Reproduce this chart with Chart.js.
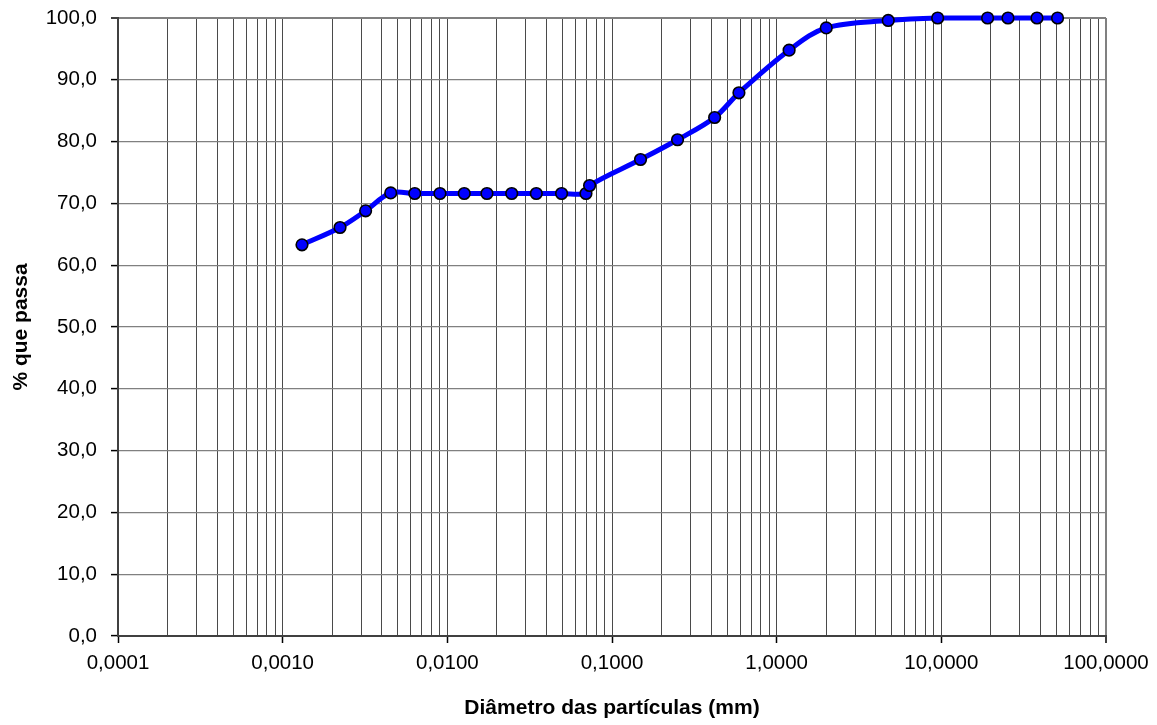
<!DOCTYPE html>
<html>
<head>
<meta charset="utf-8">
<script src="https://cdn.jsdelivr.net/npm/chart.js@4.4.1/dist/chart.umd.min.js"></script>
<style>
  html, body { margin: 0; padding: 0; background: #ffffff; }
  #wrap { width: 1157px; height: 725px; position: relative; }
</style>
</head>
<body>
<div id="wrap"><canvas id="c" width="1157" height="725"></canvas></div>
<script>
// ---- Data ----
const diameters = [0.00131, 0.00223, 0.00319, 0.00453, 0.00634, 0.00902, 0.01267, 0.0174, 0.0246, 0.0347, 0.0494, 0.0695, 0.0731, 0.149, 0.25, 0.42, 0.59, 1.19, 2.0, 4.76, 9.5, 19.1, 25.4, 38.1, 50.8];
const passing   = [63.3, 66.1, 68.8, 71.7, 71.6, 71.6, 71.6, 71.6, 71.6, 71.6, 71.6, 71.6, 72.9, 77.1, 80.3, 83.9, 87.9, 94.8, 98.4, 99.6, 100, 100, 100, 100, 100];

const xTickValues = [0.0001, 0.001, 0.01, 0.1, 1, 10, 100];
const xTickLabels = ["0,0001", "0,0010", "0,0100", "0,1000", "1,0000", "10,0000", "100,0000"];
const yTickValues = [0, 10, 20, 30, 40, 50, 60, 70, 80, 90, 100];
const yTickLabels = ["0,0", "10,0", "20,0", "30,0", "40,0", "50,0", "60,0", "70,0", "80,0", "90,0", "100,0"];

const xTitle = "Diâmetro das partículas (mm)";
const yTitle = "% que passa";

// minor log grid values (1..9 x 10^n)
const xGridValues = [];
for (let e = -4; e <= 1; e++) {
  for (let m = 1; m <= 9; m++) xGridValues.push(parseFloat((m * Math.pow(10, e)).toPrecision(6)));
}
xGridValues.push(100);

function majorIndex(v) {
  for (let i = 0; i < xTickValues.length; i++) {
    if (Math.abs(Math.log10(v) - Math.log10(xTickValues[i])) < 1e-6) return i;
  }
  return -1;
}

const FONT = "'Liberation Sans', Arial, Helvetica, sans-serif";

new Chart(document.getElementById('c'), {
  type: 'line',
  data: {
    datasets: [{
      data: diameters.map((d, i) => ({ x: d, y: passing[i] })),
      borderColor: '#0000FF',
      borderWidth: 5,
      tension: 0.35,
      pointRadius: 5.8,
      pointHoverRadius: 5.8,
      pointBackgroundColor: '#0000FF',
      pointBorderColor: '#000000',
      pointBorderWidth: 1.6,
      clip: false,
      fill: false
    }]
  },
  options: {
    responsive: false,
    animation: false,
    events: [],
    layout: { padding: { left: 0, right: 51, top: 18, bottom: 0 } },
    plugins: { legend: { display: false }, tooltip: { enabled: false }, title: { display: false } },
    scales: {
      x: {
        type: 'logarithmic',
        min: 0.0001,
        max: 100,
        afterBuildTicks: (scale) => { scale.ticks = xGridValues.map(v => ({ value: v })); },
        afterFit: (scale) => { scale.height = 89; scale.paddingLeft = 0; scale.paddingRight = 0; },
        ticks: {
          autoSkip: false,
          maxRotation: 0,
          minRotation: 0,
          padding: 8,
          color: '#000000',
          font: { family: FONT, size: 20.5 },
          callback: (value) => { const i = majorIndex(value); return i >= 0 ? xTickLabels[i] : ''; }
        },
        grid: {
          color: (ctx) => (ctx.tick && majorIndex(ctx.tick.value) === xTickValues.length - 1) ? '#808080' : '#4a4a4a',
          lineWidth: (ctx) => (ctx.tick && majorIndex(ctx.tick.value) === xTickValues.length - 1) ? 2 : 1,
          drawTicks: true,
          tickLength: 7,
          tickColor: (ctx) => (ctx.tick && majorIndex(ctx.tick.value) >= 0) ? '#000000' : 'rgba(0,0,0,0)',
          tickWidth: 1.5
        },
        border: { display: true, color: '#404040', width: 2 },
        title: {
          display: true,
          text: xTitle,
          color: '#000000',
          font: { family: FONT, size: 21, weight: 'bold' },
          padding: { top: 0, bottom: 4 }
        }
      },
      y: {
        type: 'linear',
        min: 0,
        max: 100,
        afterBuildTicks: (scale) => { scale.ticks = yTickValues.map(v => ({ value: v })); },
        afterFit: (scale) => { scale.width = 118; scale.paddingTop = 0; scale.paddingBottom = 0; },
        ticks: {
          padding: 14,
          color: '#000000',
          font: { family: FONT, size: 20.5 },
          callback: (value, index) => yTickLabels[yTickValues.indexOf(value)]
        },
        grid: {
          color: '#808080',
          lineWidth: (ctx) => (ctx.tick && ctx.tick.value === 100) ? 2 : 1.2,
          drawTicks: true,
          tickLength: 7,
          tickColor: '#000000',
          tickWidth: 1.5
        },
        border: { display: true, color: '#404040', width: 2 },
        title: {
          display: true,
          text: yTitle,
          color: '#000000',
          font: { family: FONT, size: 21, weight: 'bold' },
          padding: { top: 9, bottom: 0 }
        }
      }
    }
  }
});
</script>
</body>
</html>
